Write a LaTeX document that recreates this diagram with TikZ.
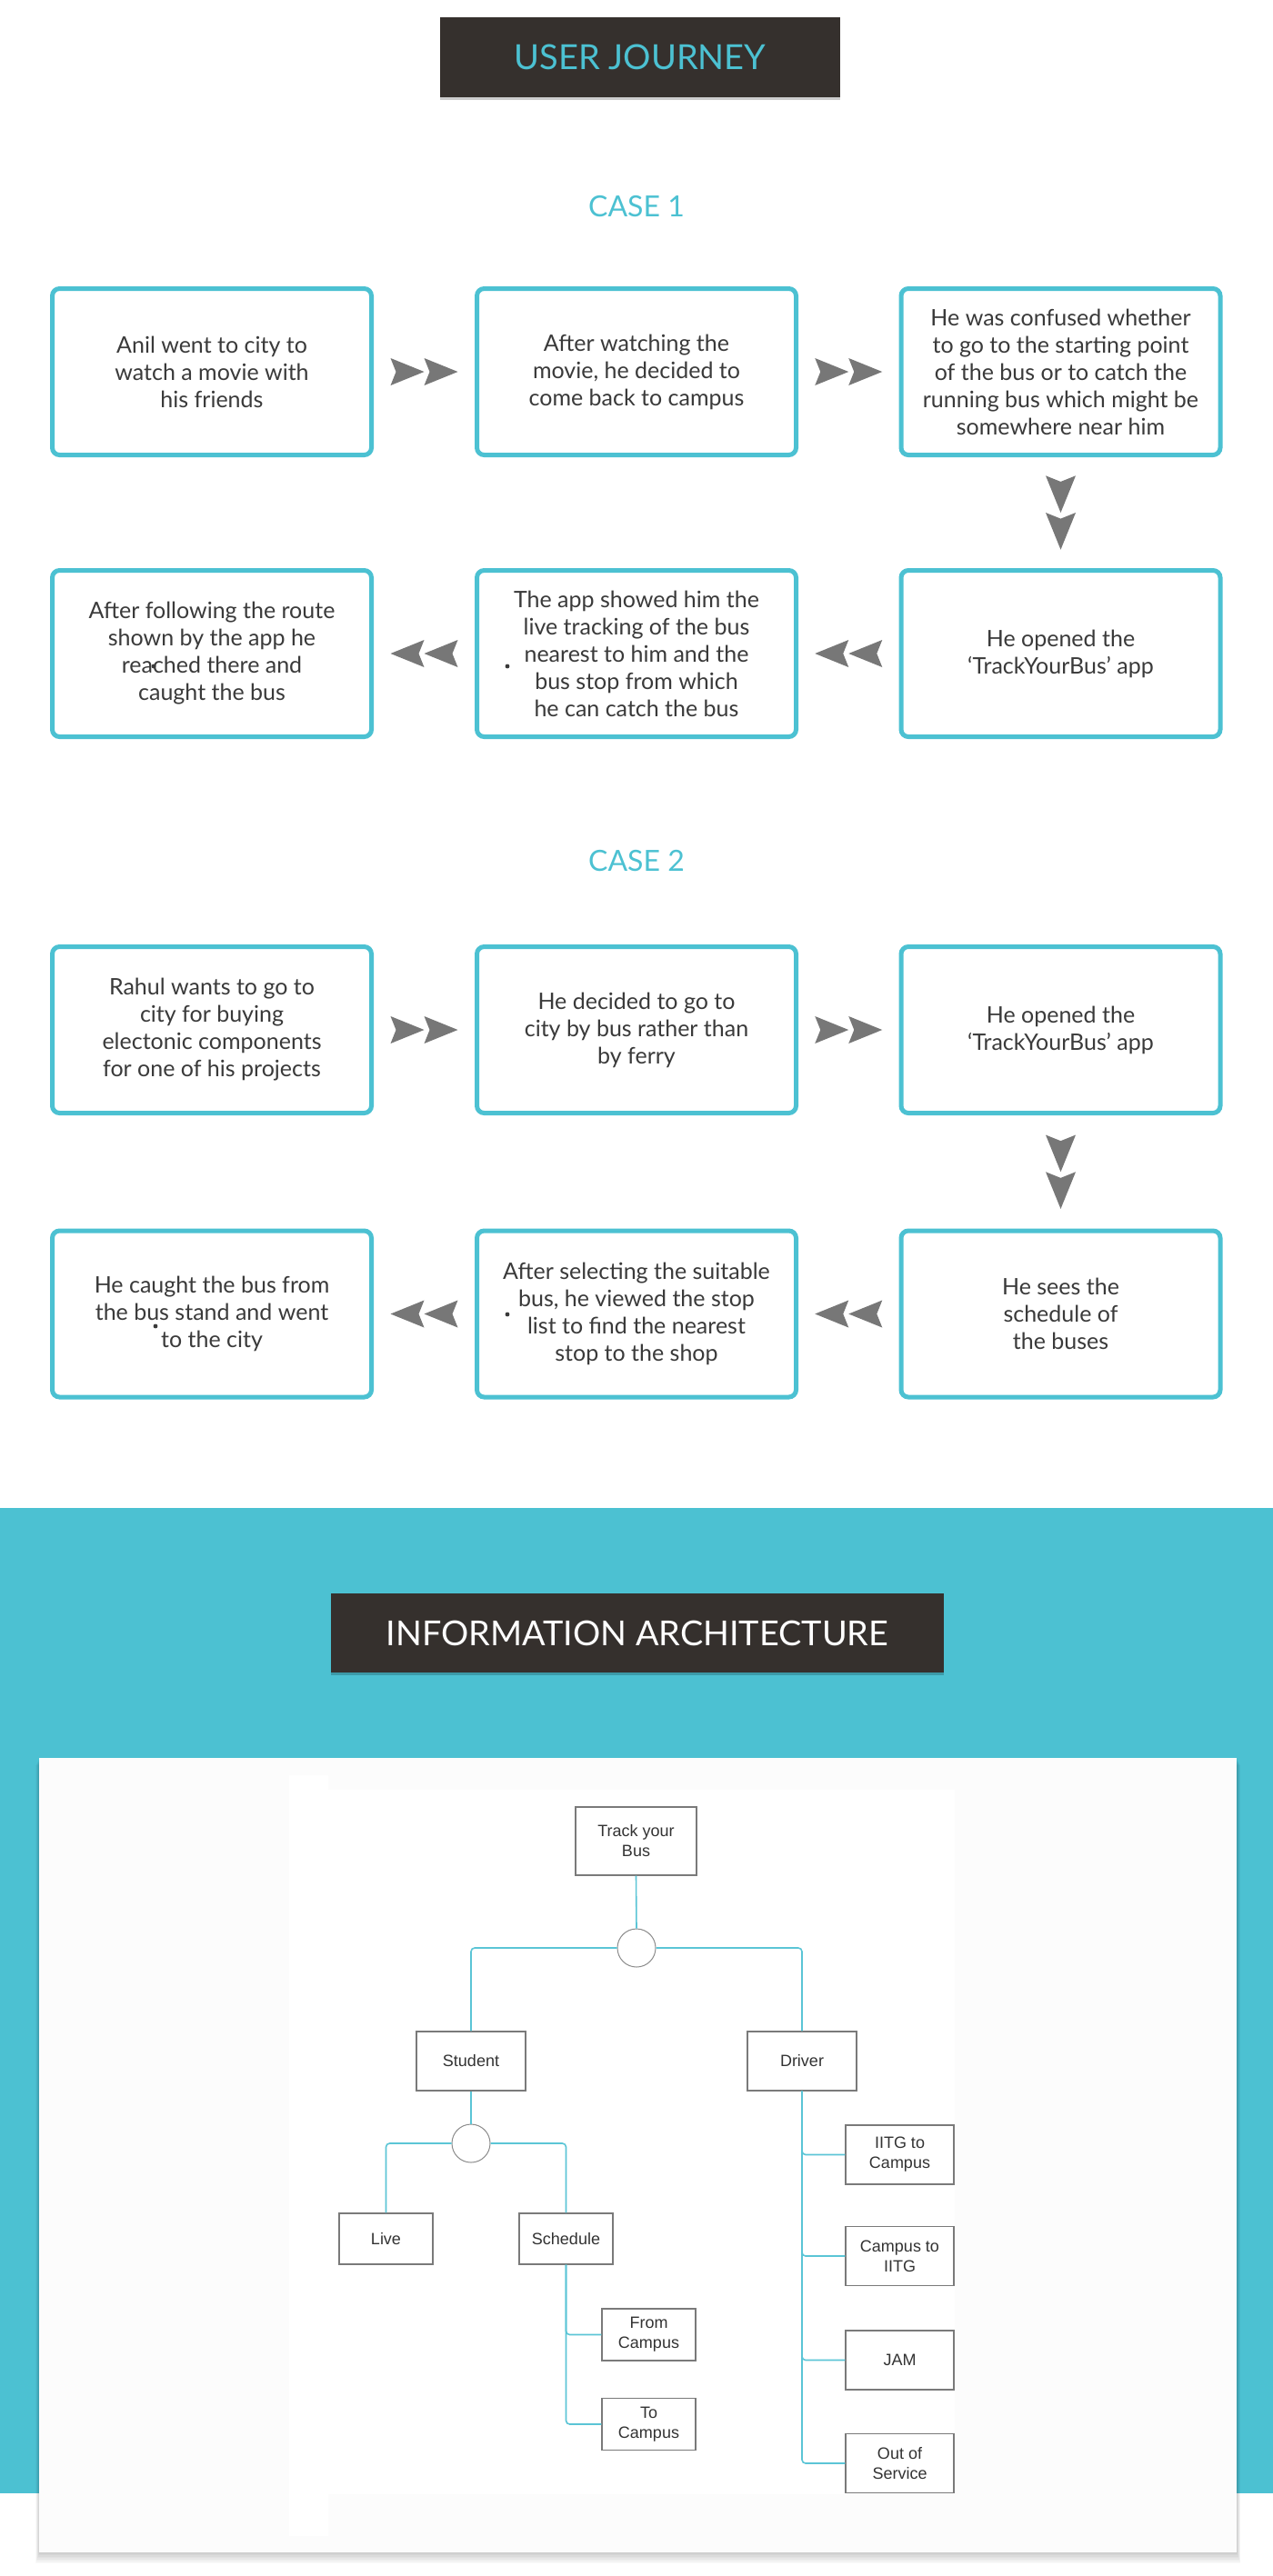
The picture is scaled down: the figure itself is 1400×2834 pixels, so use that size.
\documentclass[tikz,border=0pt]{standalone}
\usepackage{fontspec}
\setmainfont{Lato}
\newfontfamily\arialfont{Liberation Sans}
\usetikzlibrary{shadows,calc}
\definecolor{cy}{HTML}{4CC1D2}
\definecolor{darkbg}{HTML}{35302D}
\definecolor{arr}{HTML}{777777}
\definecolor{txt}{HTML}{3A3A3A}
\definecolor{iabox}{HTML}{7A7A7A}
\definecolor{ialine}{HTML}{5BC5D6}
\definecolor{panel}{HTML}{FCFCFC}
\tikzset{
  card/.style={draw=cy, line width=2.5pt, rounded corners=4pt, fill=white,
    minimum width=175.5pt, minimum height=91.5pt, align=center, text=txt,
    font=\fontsize{12.5}{15}\selectfont, inner sep=0pt},
  ttl/.style={fill=darkbg, inner sep=0pt, align=center,
    drop shadow={shadow xshift=0pt, shadow yshift=-1.5pt, opacity=0.2, fill=black}},
  casettl/.style={text=cy, font=\fontsize{16}{19}\selectfont},
  iab/.style={draw=iabox, line width=0.7pt, fill=white, align=center, inner sep=0pt,
    text=black!80, font=\arialfont\fontsize{9}{11}\selectfont},
  conn/.style={draw=ialine, line width=0.8pt, rounded corners=2pt},
  hub/.style={circle, draw=black!45, line width=0.5pt, fill=white, minimum size=21pt, inner sep=0pt},
  dchev/.pic={
    \fill[arr] (-37,-15) -- (0,0) -- (-37,15) -- (-31,0) -- cycle;
    \fill[arr] (0,-15) -- (37,0) -- (0,15) -- (6,0) -- cycle;
  }
}
\begin{document}
\begin{tikzpicture}[x=0.5pt,y=-0.5pt]
\useasboundingbox (0,0) rectangle (1400,2834);
\fill[white] (0,0) rectangle (1400,2834);

% ---------- USER JOURNEY ----------
\node[ttl, minimum width=220pt, minimum height=44pt, text=cy,
  font=\fontsize{19}{21}\selectfont] (uj) at (704,63) {USER JOURNEY};

\node[casettl] (case1) at (700,227) {CASE 1};

\node[card] (a1) at (233,409) {Anil went to city to\\watch a movie with\\his friends};
\node[card] (a2) at (700,409) {After watching the\\movie, he decided to\\come back to campus};
\node[card] (a3) at (1166.5,409) {He was confused whether\\to go to the starting point\\of the bus or to catch the\\running bus which might be\\somewhere near him};
\node[card] (a4) at (1166.5,719) {He opened the\\‘TrackYourBus’ app};
\node[card] (a5) at (700,719) {The app showed him the\\live tracking of the bus\\nearest to him and the\\bus stop from which\\he can catch the bus};
\node[card] (a6) at (233,719) {After following the route\\shown by the app he\\reached there and\\caught the bus};
\fill[txt] (169,733) circle[radius=1.2pt];
\fill[txt] (558,733) circle[radius=1.2pt];

\pic at ($(a1.east)!0.5!(a2.west)$) {dchev};
\pic at ($(a2.east)!0.5!(a3.west)$) {dchev};
\pic[rotate=-90, scale=1.1] at ($(a3.south)!0.5!(a4.north)$) {dchev};
\pic[rotate=180] at ($(a4.west)!0.5!(a5.east)$) {dchev};
\pic[rotate=180] at ($(a5.west)!0.5!(a6.east)$) {dchev};

\node[casettl] (case2) at (700,947) {CASE 2};

\node[card] (b1) at (233,1133) {Rahul wants to go to\\city for buying\\electonic components\\for one of his projects};
\node[card] (b2) at (700,1133) {He decided to go to\\city by bus rather than\\by ferry};
\node[card] (b3) at (1166.5,1133) {He opened the\\‘TrackYourBus’ app};
\node[card] (b4) at (1166.5,1445.5) {He sees the\\schedule of\\the buses};
\node[card] (b5) at (700,1445.5) {After selecting the suitable\\bus, he viewed the stop\\list to find the nearest\\stop to the shop};
\node[card] (b6) at (233,1445.5) {He caught the bus from\\the bus stand and went\\to the city};
\fill[txt] (171,1459) circle[radius=1.2pt];
\fill[txt] (558,1446) circle[radius=1.2pt];

\pic at ($(b1.east)!0.5!(b2.west)$) {dchev};
\pic at ($(b2.east)!0.5!(b3.west)$) {dchev};
\pic[rotate=-90, scale=1.1] at ($(b3.south)!0.5!(b4.north)$) {dchev};
\pic[rotate=180] at ($(b4.west)!0.5!(b5.east)$) {dchev};
\pic[rotate=180] at ($(b5.west)!0.5!(b6.east)$) {dchev};

% ---------- INFORMATION ARCHITECTURE ----------
\fill[cy] (0,1659) rectangle (1400,2743);
\node[ttl, minimum width=337pt, minimum height=43.5pt, text=white,
  font=\fontsize{18.9}{21}\selectfont] (ia) at (701,1796.5) {INFORMATION ARCHITECTURE};

% soft shadow of the panel
\foreach \s in {1,...,8} {
  \fill[black, opacity=0.025] (43-\s*0.5,1934+\s) rectangle (1360+\s*0.5,2808+\s*1.5);
}
\fill[panel] (43,1934) rectangle (1360,2808);
\fill[white] (361,1969) rectangle (1050,2744);
\fill[white] (318,1953) rectangle (361,2790);

\node[iab, minimum width=66.5pt, minimum height=37.5pt] (track) at (699.5,2025.5) {Track your\\Bus};
\node[hub] (h1) at (700,2143) {};
\node[iab, minimum width=60pt, minimum height=32.5pt] (stu) at (518,2267.5) {Student};
\node[iab, minimum width=60pt, minimum height=32.5pt] (drv) at (882,2267.5) {Driver};
\node[hub] (h2) at (518,2358) {};
\node[iab, minimum width=51.5pt, minimum height=28pt] (live) at (424.5,2463) {Live};
\node[iab, minimum width=51.5pt, minimum height=28pt] (sch) at (622.5,2463) {Schedule};
\node[iab, minimum width=51.5pt, minimum height=28.5pt] (fromc) at (713.5,2568.5) {From\\Campus};
\node[iab, minimum width=51.5pt, minimum height=28.5pt] (toc) at (713.5,2667) {To\\Campus};
\node[iab, minimum width=59.5pt, minimum height=32.5pt] (d1) at (989.5,2370.5) {IITG to\\Campus};
\node[iab, minimum width=59.5pt, minimum height=32.5pt] (d2) at (989.5,2482) {Campus to\\IITG};
\node[iab, minimum width=59.5pt, minimum height=32.5pt] (d3) at (989.5,2596.5) {JAM};
\node[iab, minimum width=59.5pt, minimum height=32.5pt] (d4) at (989.5,2710) {Out of\\Service};

\draw[conn] (track.south) -- (h1.north);
\draw[conn] (h1.west) -| (stu.north);
\draw[conn] (h1.east) -| (drv.north);
\draw[conn] (stu.south) -- (h2.north);
\draw[conn] (h2.west) -| (live.north);
\draw[conn] (h2.east) -| (sch.north);
\draw[conn] (sch.south) |- (fromc.west);
\draw[conn] (sch.south) |- (toc.west);
\draw[conn] (drv.south) |- (d1.west);
\draw[conn] (drv.south) |- (d2.west);
\draw[conn] (drv.south) |- (d3.west);
\draw[conn] (drv.south) |- (d4.west);
\end{tikzpicture}
\end{document}
